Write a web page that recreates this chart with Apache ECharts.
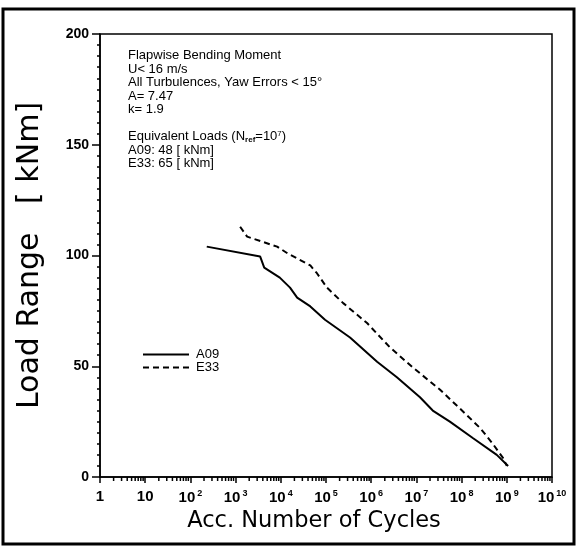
<!DOCTYPE html>
<html>
<head>
<meta charset="utf-8">
<script src="https://cdn.jsdelivr.net/npm/echarts@6/dist/echarts.min.js"></script>
<style>
  html, body { margin: 0; padding: 0; background: #fff; }
  #chart { width: 578px; height: 547px; }
</style>
</head>
<body>
<div id="chart"></div>
<script>
// Accumulated load spectra: number of cycles vs. load range (kNm)
const seriesNames = ['A09', 'E33'];

const a09Cycles = [2.3e2, 3.5e3, 4.3e3, 9.5e3, 1.6e4, 2.3e4, 4.5e4, 9.5e4, 3.4e5, 1.35e6, 3.7e6, 1.2e7, 2.3e7, 5.5e7, 1.8e8, 6.0e8, 1.07e9];
const a09Load   = [104, 99.5, 94.5, 90, 85.5, 81, 77, 71, 63, 52, 45, 36, 30, 25, 17.5, 10, 5];

const e33Cycles = [1.26e3, 1.8e3, 8.3e3, 1.4e4, 4.5e4, 6.3e4, 1.05e5, 2.4e5, 8.1e5, 2.6e6, 8.3e6, 3.3e7, 9.1e7, 2.6e8, 4.9e8, 8.3e8, 1.0e9];
const e33Load   = [113, 108.5, 104, 101, 95.5, 92, 85.5, 78.5, 69.5, 58.5, 49.5, 39.5, 31, 22, 15, 8.5, 5];

// x tick labels, one per decade (rich-text superscripts)
const xTickLabels = ['1', '10', '10{s|2}', '10{s|3}', '10{s|4}', '10{s|5}', '10{s|6}', '10{s|7}', '10{s|8}', '10{s|9}', '10{s|10}'];
const yTickLabels = ['0', '50', '100', '150', '200'];

// annotation block
const infoLines = [
  'Flapwise Bending Moment',
  'U< 16 m/s',
  'All Turbulences, Yaw Errors < 15°',
  'A= 7.47',
  'k= 1.9',
  '',
  'Equivalent Loads (N{sub|ref}=10{sup|7})',
  'A09: 48 [ kNm]',
  'E33: 65 [ kNm]'
];

// minor tick positions (2..9 within each decade) on the log axis
const minorTickValues = [];
for (let k = 0; k < 10; k++) {
  for (let m = 2; m <= 9; m++) minorTickValues.push([m * Math.pow(10, k), 0]);
}

const FONT = 'Liberation Sans';
const TITLE_FONT = 'DejaVu Sans';
const chart = echarts.init(document.getElementById('chart'));

chart.setOption({
  animation: false,
  backgroundColor: '#fff',
  grid: {
    left: 100, right: 26, top: 34, bottom: 70,
    show: true, borderColor: '#000', borderWidth: 1.5, backgroundColor: 'transparent'
  },
  legend: {
    data: seriesNames,
    orient: 'vertical',
    left: 137, top: 343,
    itemWidth: 46, itemHeight: 10, itemGap: 0,
    itemStyle: { opacity: 0 },
    textStyle: { fontFamily: FONT, fontSize: 13, lineHeight: 13, color: '#000', padding: [0, 0, 0, 2] }
  },
  xAxis: {
    type: 'log', logBase: 10, min: 1, max: 1e10, interval: 1,
    name: 'Acc. Number of Cycles', nameLocation: 'middle', nameGap: 29,
    nameTextStyle: { fontFamily: TITLE_FONT, fontSize: 22.5, color: '#000', padding: [0, 24, 0, 0] },
    axisLine: { lineStyle: { color: '#000', width: 1.5 } },
    axisTick: { show: true, inside: false, length: 6, lineStyle: { color: '#000', width: 1.5 } },
    splitLine: { show: false },
    axisLabel: {
      margin: 12, color: '#000', fontFamily: FONT, fontSize: 15, fontWeight: 'bold',
      formatter: function (v) {
        const i = Math.round(Math.log10(v));
        return xTickLabels[i] || '';
      },
      rich: {
        s: { fontSize: 9, fontWeight: 'bold', fontFamily: FONT, color: '#000', verticalAlign: 'top', padding: [0, 0, 8, 2] }
      }
    }
  },
  yAxis: {
    type: 'value', min: 0, max: 200, interval: 50,
    name: 'Load Range   [ kNm]', nameLocation: 'middle', nameGap: 55, nameRotate: 90,
    nameTextStyle: { fontFamily: TITLE_FONT, fontSize: 30, color: '#000' },
    axisLine: { show: true, lineStyle: { color: '#000', width: 1.5 } },
    axisTick: { show: true, inside: false, length: 8, lineStyle: { color: '#000', width: 1.5 } },
    minorTick: { show: true, splitNumber: 10, length: 3, lineStyle: { color: '#000', width: 1.5 } },
    splitLine: { show: false },
    axisLabel: {
      margin: 11, color: '#000', fontFamily: FONT, fontSize: 14, fontWeight: 'bold',
      formatter: function (v) { return yTickLabels[Math.round(v / 50)]; }
    }
  },
  graphic: [
    {
      type: 'rect', silent: true,
      shape: { x: 3, y: 9, width: 571, height: 535 },
      style: { fill: 'none', stroke: '#000', lineWidth: 3 }
    },
    {
      type: 'text', left: 128, top: 49, silent: true,
      style: {
        text: infoLines.join('\n'),
        fontFamily: FONT, fontSize: 13, lineHeight: 13.5, fill: '#000',
        rich: {
          sub: { fontFamily: FONT, fontSize: 8, fontWeight: 'bold', verticalAlign: 'bottom', padding: [4, 0, 0, 0], lineHeight: 13.5 },
          sup: { fontFamily: FONT, fontSize: 8, verticalAlign: 'top', padding: [0, 0, 5, 0], lineHeight: 13.5 }
        }
      }
    }
  ],
  series: [
    {
      name: 'A09', type: 'line', symbol: 'none',
      data: a09Cycles.map((n, i) => [n, a09Load[i]]),
      lineStyle: { color: '#000', width: 2, type: 'solid' },
      itemStyle: { color: '#000' }
    },
    {
      name: 'E33', type: 'line', symbol: 'none',
      data: e33Cycles.map((n, i) => [n, e33Load[i]]),
      lineStyle: { color: '#000', width: 2, type: [6, 4] },
      itemStyle: { color: '#000' }
    },
    {
      // short ticks at 2..9 of every decade under the x axis
      type: 'custom', silent: true, clip: false,
      data: minorTickValues,
      renderItem: function (params, api) {
        const p = api.coord([api.value(0), 0]);
        return {
          type: 'line',
          shape: { x1: p[0], y1: p[1], x2: p[0], y2: p[1] + 4 },
          style: { stroke: '#000', lineWidth: 1.5 }
        };
      }
    }
  ]
});
</script>
</body>
</html>
